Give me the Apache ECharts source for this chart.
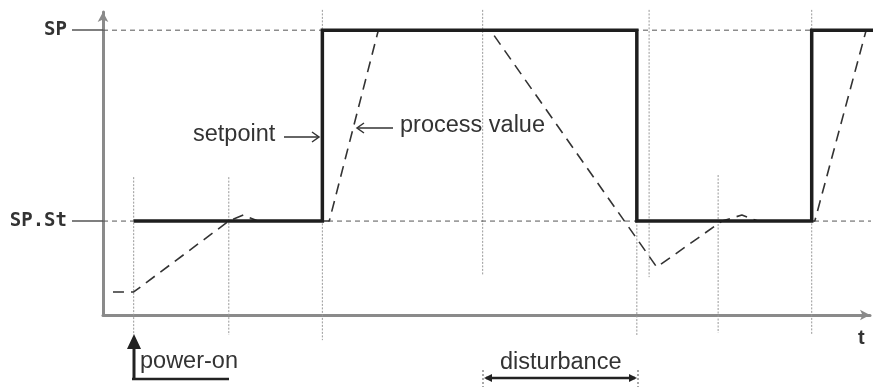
<!DOCTYPE html>
<html>
<head>
<meta charset="utf-8">
<script src="https://cdn.jsdelivr.net/npm/echarts@6/dist/echarts.min.js"></script>
<style>
  html, body { margin: 0; padding: 0; background: #fff; }
  #chart { width: 880px; height: 387px; }
</style>
</head>
<body>
<div id="chart"></div>
<script>
// levels (y units, 0..100)
const levelSP = 94
const levelSPSt = 31
const levelLabels = { 94: 'SP', 31: 'SP.St' }

// setpoint (thick step line), time in 0..100
const spTime = [4.0, 28.6, 28.6, 69.6, 69.6, 92.4, 92.4, 100.6]
const spValue = [31, 31, 94, 94, 31, 31, 94, 94]

// process value (dashed)
const pvTime = [1.3, 4.0, 16.4, 18.3, 20.2, 29.5, 35.9, 50.5, 72.2, 80.7, 83.3, 85.4, 92.8, 99.5]
const pvValue = [7.6, 7.6, 31, 33, 31, 31, 94, 94, 15.8, 31, 33, 31, 31, 94]

// event times with vertical dotted guides (top / bottom in y units)
const eventTime = [4.0, 16.4, 28.6, 49.5, 69.6, 71.2, 80.2, 92.4]
const eventTop = [45.5, 45.5, 100.7, 100.7, 31, 100.7, 46.2, 100.7]
const eventBottom = [-6.6, -6.6, -8.3, 13.2, -6.6, 12.5, -5.9, -6.6]

const pair = (xs, ys) => xs.map((x, i) => [x, ys[i]])

const myChart = echarts.init(document.getElementById('chart'))

let series = []
// vertical dotted guides
eventTime.forEach((t, i) => {
  series.push({
    type: 'line',
    data: [[t, eventTop[i]], [t, eventBottom[i]]],
    symbol: 'none',
    clip: false,
    silent: true,
    z: 1,
    lineStyle: { color: '#999', width: 1, type: [2, 1.5] },
  })
})
// horizontal dashed level lines
series.push({
  type: 'line',
  data: [[0, levelSP], [92.4, levelSP]],
  symbol: 'none',
  clip: false,
  z: 1,
  lineStyle: { color: '#555', width: 1, type: [5, 4] },
})
series.push({
  type: 'line',
  data: [[0, levelSPSt], [101.3, levelSPSt]],
  symbol: 'none',
  clip: false,
  z: 1,
  lineStyle: { color: '#555', width: 1, type: [5, 4] },
})
// process value
series.push({
  name: 'process value',
  type: 'line',
  data: pair(pvTime, pvValue),
  symbol: 'none',
  clip: false,
  z: 3,
  lineStyle: { color: '#333', width: 1.6, type: [11, 7] },
})
// setpoint
series.push({
  name: 'setpoint',
  type: 'line',
  data: pair(spTime, spValue),
  symbol: 'none',
  clip: false,
  z: 4,
  lineStyle: { color: '#1e1e1e', width: 3.5, join: 'miter' },
})

const txt = { fontFamily: 'Liberation Sans, Arial, sans-serif', fontSize: 23.5, fill: '#333' }

myChart.setOption({
  animation: false,
  grid: { left: 103, right: 10, top: 12, bottom: 72 },
  xAxis: {
    type: 'value',
    min: 0,
    max: 100,
    axisLine: {
      show: true,
      symbol: ['none', 'arrow'],
      symbolSize: [8, 10],
      lineStyle: { color: '#8a8a8a', width: 3 },
    },
    axisTick: { show: false },
    axisLabel: { show: false },
    splitLine: { show: false },
  },
  yAxis: {
    type: 'value',
    min: 0,
    max: 100,
    axisLine: {
      show: true,
      symbol: ['none', 'arrow'],
      symbolSize: [8, 10],
      lineStyle: { color: '#8a8a8a', width: 3 },
    },
    axisTick: {
      show: true,
      customValues: [levelSPSt, levelSP],
      length: 31,
      lineStyle: { color: '#555', width: 1.5 },
    },
    axisLabel: {
      show: true,
      customValues: [levelSPSt, levelSP],
      margin: 36,
      fontFamily: 'DejaVu Sans Mono',
      fontWeight: 'bold',
      fontSize: 19,
      color: '#333',
      formatter: (v) => levelLabels[v] || '',
    },
    splitLine: { show: false },
  },
  graphic: [
    // setpoint annotation
    { type: 'text', left: 193, top: 123, style: Object.assign({ text: 'setpoint' }, txt) },
    { type: 'line', shape: { x1: 284, y1: 137, x2: 318, y2: 137 }, style: { stroke: '#333', lineWidth: 1.5 } },
    { type: 'polyline', shape: { points: [[312, 132], [319, 137], [312, 142]] }, style: { stroke: '#333', lineWidth: 1.5, fill: null } },
    // process value annotation
    { type: 'text', left: 400, top: 114, style: Object.assign({ text: 'process value' }, txt) },
    { type: 'line', shape: { x1: 358, y1: 128, x2: 393, y2: 128 }, style: { stroke: '#333', lineWidth: 1.5 } },
    { type: 'polyline', shape: { points: [[364, 123], [357, 128], [364, 133]] }, style: { stroke: '#333', lineWidth: 1.5, fill: null } },
    // t
    { type: 'text', left: 858, top: 328, style: { text: 't', fontFamily: 'Liberation Sans, Arial, sans-serif', fontSize: 20, fontWeight: 'bold', fill: '#333' } },
    // power-on
    { type: 'line', shape: { x1: 134, y1: 346, x2: 134, y2: 378 }, style: { stroke: '#222', lineWidth: 3 } },
    { type: 'polygon', shape: { points: [[134, 334], [127, 349], [141, 349]] }, style: { fill: '#222' } },
    { type: 'line', shape: { x1: 132, y1: 379, x2: 229, y2: 379 }, style: { stroke: '#222', lineWidth: 2.5 } },
    { type: 'text', left: 140, top: 350, style: Object.assign({ text: 'power-on' }, txt) },
    // disturbance
    { type: 'text', left: 500, top: 351, style: Object.assign({ text: 'disturbance' }, txt) },
    { type: 'line', shape: { x1: 486, y1: 378, x2: 635, y2: 378 }, style: { stroke: '#222', lineWidth: 2.5 } },
    { type: 'polygon', shape: { points: [[484, 378], [492, 374], [492, 382]] }, style: { fill: '#222' } },
    { type: 'polygon', shape: { points: [[637, 378], [629, 374], [629, 382]] }, style: { fill: '#222' } },
    { type: 'line', shape: { x1: 483, y1: 370, x2: 483, y2: 387 }, style: { stroke: '#555', lineWidth: 1, lineDash: [2, 2] } },
    { type: 'line', shape: { x1: 638, y1: 370, x2: 638, y2: 387 }, style: { stroke: '#555', lineWidth: 1, lineDash: [2, 2] } },
  ],
  series: series,
})
</script>
</body>
</html>
